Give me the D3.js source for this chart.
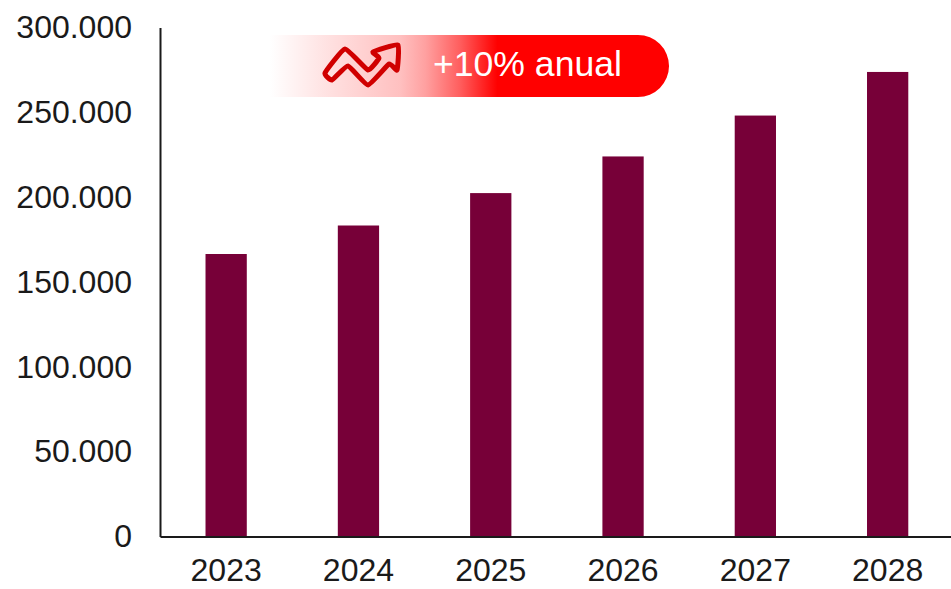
<!DOCTYPE html>
<html>
<head>
<meta charset="utf-8">
<script src="https://d3js.org/d3.v7.min.js"></script>
<style>
  html, body { margin: 0; padding: 0; background: #fff; }
  svg { display: block; }
  text { font-family: "Liberation Sans", Arial, sans-serif; }
</style>
</head>
<body>
<svg id="chart" width="951" height="589"></svg>
<script>
// Projected yearly values
const years = ["2023", "2024", "2025", "2026", "2027", "2028"];
const values = [166500, 183300, 202400, 224000, 248100, 273800];
const yTicks = [0, 50000, 100000, 150000, 200000, 250000, 300000];
const badgeLabel = "+10% anual";
const trendIcon = [[325,73],[345,49],[368,70],[379,58],[373,52],[398,45],[397,70],[389,64],[368,85],[348,66],[332,80]];

const svg = d3.select("#chart");
const margin = { left: 160, bottom: 536.5, top: 27.5 };

const x = d3.scaleBand().domain(years).range([margin.left, 953.8]).paddingInner(0.688).paddingOuter(0.344);
const y = d3.scaleLinear().domain([0, 300000]).range([margin.bottom, margin.top]);

// Spanish-style thousands separator on the value axis
const fmt = d3.formatLocale({ decimal: ",", thousands: ".", grouping: [3], currency: ["", ""] }).format(",d");

svg.append("g").selectAll("rect").data(years).join("rect")
  .attr("x", d => x(d))
  .attr("width", x.bandwidth())
  .attr("y", (d, i) => y(values[i]))
  .attr("height", (d, i) => y(0) - y(values[i]))
  .attr("fill", "#770038");

const yAxis = svg.append("g")
  .attr("transform", `translate(${margin.left},0)`)
  .call(d3.axisLeft(y).tickValues(yTicks).tickFormat(fmt).tickSize(0).tickPadding(28));
const xAxis = svg.append("g")
  .attr("transform", `translate(0,${margin.bottom})`)
  .call(d3.axisBottom(x).tickSize(0).tickPadding(22));

for (const axis of [yAxis, xAxis]) {
  axis.selectAll("text").attr("font-size", 32).attr("fill", "#1a1a1a").style("font-family", '"Liberation Sans", Arial, sans-serif');
  axis.select(".domain").attr("stroke", "#1a1a1a").attr("stroke-width", 2);
}

// Growth badge: square on the left, rounded on the right, fading in from white
const grad = svg.append("defs").append("linearGradient").attr("id", "badgeFade");
[[0, "#ffffff"], [0.14, "#ffe2e2"], [0.326, "#ffc0c0"], [0.39, "#ffa0a0"], [0.476, "#ff5e5e"], [0.57, "#ff0000"], [1, "#ff0000"]]
  .forEach(([o, c]) => grad.append("stop").attr("offset", o).attr("stop-color", c));

const pill = d3.path();
pill.moveTo(270, 35);
pill.lineTo(638, 35);
pill.arc(638, 66, 31, -Math.PI / 2, Math.PI / 2);
pill.lineTo(270, 97);
pill.closePath();
svg.append("path").attr("d", pill.toString()).attr("fill", "url(#badgeFade)");

svg.append("path")
  .attr("d", d3.line().curve(d3.curveCardinalClosed.tension(0.6))(trendIcon))
  .attr("fill", "none").attr("stroke", "#d00000")
  .attr("stroke-width", 5).attr("stroke-linejoin", "round");

svg.append("text")
  .attr("x", 433).attr("y", 76)
  .attr("font-size", 35.6).attr("fill", "#fff")
  .text(badgeLabel);
</script>
</body>
</html>
